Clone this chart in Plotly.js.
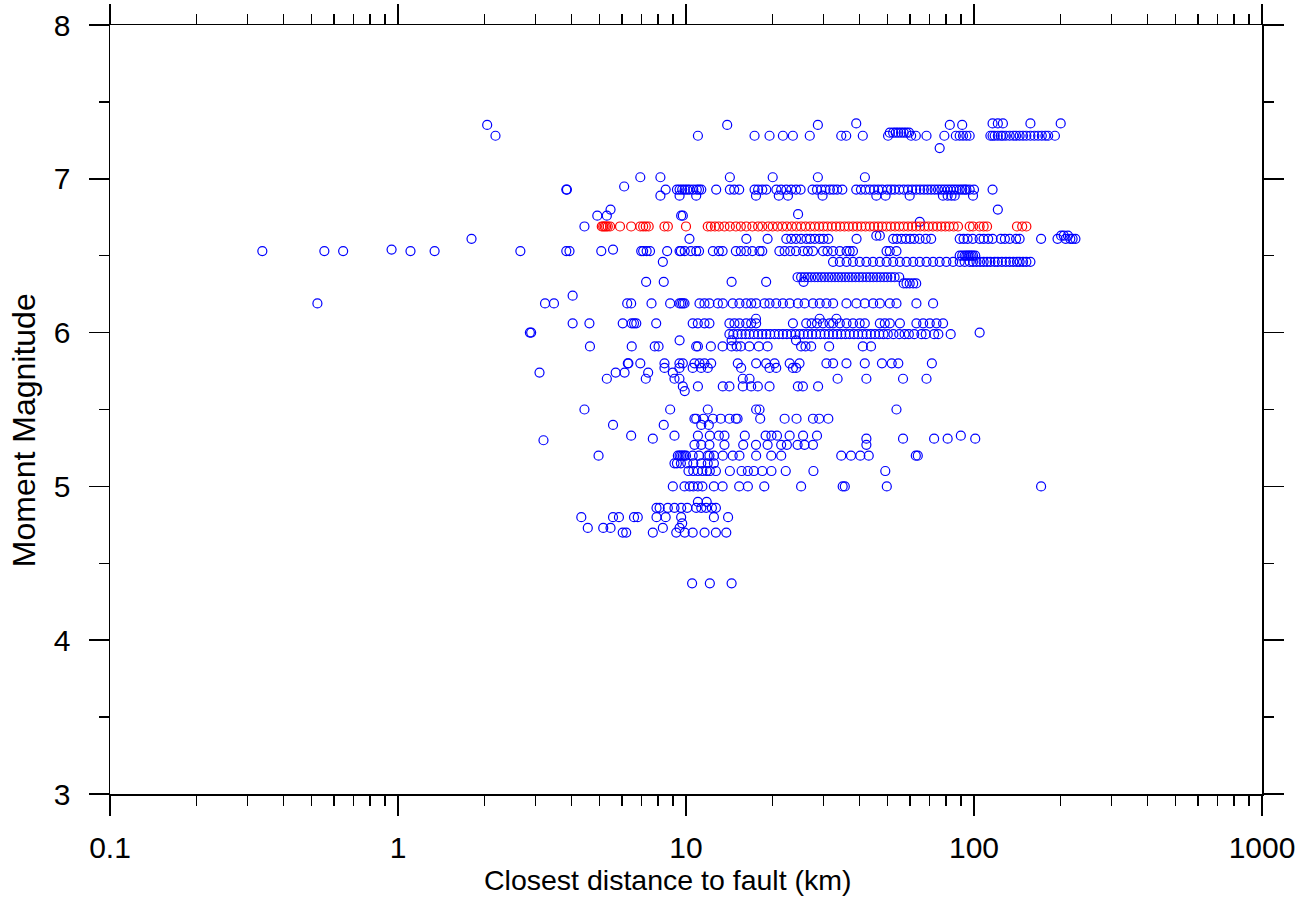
<!DOCTYPE html>
<html>
<head>
<meta charset="utf-8">
<script src="https://cdn.plot.ly/plotly-3.0.1.min.js"></script>
<style>
html,body{margin:0;padding:0;background:#fff;}
#chart{width:1314px;height:903px;}
</style>
</head>
<body>
<div id="chart"></div>
<script>
// Magnitude rows (blue = all records, red = highlighted event)
const blueMag = [7.36, 7.35, 7.30, 7.28, 7.20, 7.01, 6.95, 6.93, 6.89, 6.80, 6.77, 6.76, 6.72, 6.69, 6.63, 6.61, 6.54, 6.53, 6.50, 6.46, 6.36, 6.33, 6.32, 6.24, 6.19, 6.09, 6.06, 6.00, 5.99, 5.95, 5.91, 5.80, 5.77, 5.74, 5.70, 5.65, 5.62, 5.50, 5.44, 5.40, 5.33, 5.31, 5.30, 5.27, 5.20, 5.15, 5.10, 5.00, 4.90, 4.86, 4.80, 4.76, 4.73, 4.70, 4.37];
const blueDist = [
  [39.0, 116, 121, 126, 157, 200],
  [2.04, 13.9, 28.7, 82.4, 91.0],
  [51, 52.4, 53.5, 54.6, 55.8, 57.0, 58.2, 59.5],
  [2.18, 11.0, 17.3, 19.5, 21.7, 23.5, 26.9, 34.6, 36.0, 41.1, 50.3, 60.5, 62.8, 68.4, 78.9, 86.5, 89.2, 91.6, 94.1, 96.6, 114, 116, 118, 121, 124, 126, 129, 133, 137, 140, 144, 148, 152, 157, 162, 167, 172, 177, 181, 191],
  [76.0],
  [6.94, 8.15, 14.2, 20.0, 28.7, 41.8],
  [6.1],
  [3.84, 3.86, 8.5, 9.3, 9.5, 9.7, 9.9, 10.1, 10.3, 10.6, 10.9, 11.1, 11.3, 12.73, 14.2, 14.7, 15.3, 17.3, 17.8, 18.4, 19.0, 20.6, 21.4, 22.3, 23.2, 24.1, 25.0, 27.5, 28.5, 29.5, 30.5, 31.6, 32.5, 33.5, 34.9, 39.0, 40.5, 42.0, 43.5, 45.0, 46.5, 48.0, 50.0, 51.5, 53.0, 55.0, 57.0, 59.0, 61.0, 63.0, 65.0, 67.0, 69.0, 71.0, 73.0, 75.0, 77.0, 79.0, 81.0, 83.0, 85.0, 87.0, 89.2, 91.0, 92.8, 94.1, 96.6, 100, 116],
  [8.15, 9.5, 10.85, 17.5, 21.0, 22.6, 29.8, 45.8, 49.3, 59.8, 78.0, 81.0, 83.5, 85.7, 99.2],
  [5.47, 121],
  [24.5],
  [4.92, 5.31, 9.62, 9.75],
  [64.8],
  [4.44],
  [45.8, 47.1, 200.7, 205, 212],
  [1.80, 10.28, 16.2, 19.2, 22.3, 23.2, 24.1, 25.1, 26.2, 27.0, 28.0, 29.1, 30.0, 31.2, 39.1, 52.4, 54.0, 56.0, 58.0, 60.0, 62.0, 64.7, 68.0, 71.0, 89.2, 92.0, 95.0, 99.0, 104.6, 108, 112, 116, 124, 128, 133, 140, 144, 171, 195, 208, 216, 220, 225],
  [0.95, 5.58],
  [0.338, 0.555, 0.645, 1.105, 1.34, 2.66, 3.84, 3.94, 5.08, 6.99, 7.1, 7.3, 7.5, 8.6, 9.5, 9.6, 9.9, 10.4, 10.85, 11.1, 12.4, 13.0, 13.4, 14.9, 15.5, 16.2, 17.0, 18.0, 18.4, 21.1, 22.0, 23.0, 24.1, 25.5, 26.5, 27.6, 29.9, 31.0, 32.4, 34.2, 36.1, 37.0, 38.0, 49.7, 51.0, 53.8],
  [89.2, 91.0, 92.8, 94.1, 95.5, 96.6, 98.0, 99.2, 101],
  [8.31, 32.4, 34.2, 36.1, 38.0, 40.1, 42.3, 44.6, 47.1, 49.7, 52.4, 55.3, 58.3, 61.5, 64.8, 68.4, 72.1, 76.0, 80.2, 84.6, 89.2, 92.8, 96.6, 99.2, 102, 105, 108, 111, 114, 118, 121, 125, 129, 133, 137, 141, 144, 148, 152, 157],
  [24.4, 25.1, 25.8, 26.5, 27.2, 28.0, 28.7, 29.5, 30.3, 31.2, 32.0, 32.9, 33.8, 34.7, 35.7, 36.7, 37.7, 38.8, 39.9, 41.0, 42.3, 43.5, 44.7, 46.0, 47.3, 48.7, 50.0, 51.5, 53.0, 55.0],
  [7.27, 8.37, 14.4, 18.98, 25.6],
  [57.0, 58.3, 59.8, 61.5, 63.0],
  [4.04],
  [0.525, 3.24, 3.48, 6.25, 6.45, 7.59, 8.81, 9.49, 9.62, 9.75, 9.88, 11.14, 11.59, 12.06, 12.9, 13.42, 14.53, 15.33, 16.18, 16.84, 17.52, 18.73, 19.5, 20.57, 21.7, 22.91, 24.46, 25.81, 27.6, 29.13, 30.73, 32.42, 36.07, 39.06, 41.76, 44.65, 47.1, 51.0, 53.8, 63.1, 72.1],
  [17.5, 29.1, 33.3],
  [4.04, 4.62, 6.03, 6.48, 6.6, 6.72, 7.88, 10.55, 10.99, 11.59, 12.06, 14.15, 14.73, 15.33, 16.18, 16.84, 17.52, 23.51, 26.15, 27.3, 28.5, 29.9, 31.5, 32.42, 34.2, 36.1, 38.0, 40.1, 41.76, 47.1, 49.0, 51.0, 55.3, 63.1, 66.6, 70.2, 74.1, 78.1],
  [2.87, 2.90, 104.6],
  [14.15, 14.6, 15.1, 15.6, 16.1, 16.6, 17.2, 17.8, 18.4, 19.0, 19.6, 20.3, 21.0, 21.7, 22.4, 23.2, 24.0, 24.8, 25.6, 26.5, 27.4, 28.3, 29.3, 30.3, 31.3, 32.4, 33.5, 34.6, 35.8, 37.0, 38.3, 39.6, 41.0, 42.4, 43.8, 45.3, 46.9, 48.5, 50.2, 52.5, 55.0, 57.4, 59.4, 62.0, 65.7, 68.0, 72.7, 75.2, 83.0],
  [9.5, 14.4, 24.1],
  [4.64, 6.48, 7.79, 8.03, 10.85, 11.0, 12.2, 13.4, 14.4, 15.0, 15.5, 16.6, 17.9, 19.2, 25.1, 26.0, 27.2, 31.4, 41.1, 43.9],
  [6.28, 6.31, 6.94, 8.42, 9.49, 9.75, 10.7, 11.14, 11.59, 12.23, 15.13, 17.52, 18.98, 20.3, 22.91, 24.78, 30.73, 32.42, 36.07, 41.76, 47.9, 51.8, 54.6, 71.4],
  [8.42, 9.49, 10.55, 11.29, 11.9, 15.54, 19.5, 20.57, 23.51, 24.12],
  [3.10, 5.70, 6.12, 7.39, 9.0],
  [5.31, 7.25, 9.12, 9.49, 15.75, 16.62, 33.6, 42.3, 56.7, 68.4],
  [9.75, 11.0, 13.42, 14.15, 15.75, 16.84, 17.76, 19.5, 24.46, 25.46, 28.75],
  [9.9],
  [4.44, 8.81, 11.9, 17.52, 18.0, 53.8],
  [10.7, 10.85, 11.5, 12.4, 13.2, 14.15, 14.9, 15.1, 18.1, 22.0, 24.2, 27.6, 29.0, 31.2],
  [5.58, 8.37, 11.3, 12.0],
  [6.45, 9.12, 11.0, 12.1, 13.0, 13.6, 16.0, 18.9, 19.8, 20.7, 22.9, 25.5, 28.5, 90.0],
  [7.67, 42.3, 56.7, 72.7, 81.0, 101],
  [3.20],
  [10.7, 11.3, 12.06, 13.6, 15.8, 17.5, 19.2, 21.4, 22.4, 24.4, 25.8, 27.6, 42.3],
  [4.97, 9.37, 9.5, 9.62, 9.75, 9.88, 10.0, 10.55, 11.1, 11.9, 12.06, 12.5, 13.42, 14.53, 15.33, 17.52, 19.77, 21.41, 34.6, 37.4, 40.3, 43.1, 62.8, 63.8],
  [9.12, 9.3, 9.6, 10.1, 10.6, 11.3, 11.9, 12.5],
  [10.2, 10.6, 11.0, 11.4, 11.8, 12.1, 12.7, 14.2, 15.6, 16.4, 17.2, 18.4, 19.8, 22.2, 27.7, 49.2],
  [9.0, 9.88, 10.3, 10.6, 11.0, 11.4, 12.5, 13.4, 15.3, 16.4, 18.7, 25.1, 35.0, 35.6, 49.8, 171],
  [11.0, 11.8],
  [7.9, 8.1, 8.65, 9.12, 9.62, 10.1, 10.85, 11.3, 11.75, 12.3, 12.7],
  [4.33, 5.58, 5.85, 6.6, 6.8, 7.9, 8.5, 9.62, 12.5, 14.0],
  [9.7],
  [4.56, 5.16, 5.47, 8.31, 9.5],
  [6.03, 6.2, 7.67, 9.25, 9.9, 10.55, 11.6, 12.7, 13.8],
  [10.5, 12.1, 14.4]
];
const redMag = [6.69];
const redDist = [
  [5.1, 5.16, 5.22, 5.28, 5.35, 5.45, 5.9, 6.45, 6.94, 7.1, 7.25, 7.42, 8.42, 8.65, 10.0, 11.9, 12.2, 12.6, 13.0, 13.6, 14.2, 14.9, 15.5, 16.2, 17.0, 17.8, 18.4, 19.3, 20.0, 20.8, 21.6, 22.4, 23.3, 24.2, 25.1, 26.0, 27.0, 28.0, 29.0, 30.0, 31.0, 32.1, 33.2, 34.3, 35.5, 36.7, 38.0, 39.3, 40.6, 42.0, 43.5, 45.0, 46.5, 48.0, 49.7, 51.4, 53.2, 55.0, 57.0, 59.0, 61.0, 63.0, 65.0, 67.3, 69.5, 72.0, 74.5, 77.0, 79.5, 82.0, 85.0, 88.0, 96.6, 99.2, 104.6, 108, 111, 141, 147, 152]
];
const xTickVals = [0.1, 1, 10, 100, 1000];
const xTickText = ['0.1', '1', '10', '100', '1000'];
const yTickVals = [3, 4, 5, 6, 7, 8];
const xTitle = 'Closest distance to fault (km)';
const yTitle = 'Moment Magnitude';

function flatten(mags, dists) {
  const xs = [], ys = [];
  mags.forEach((m, i) => dists[i].forEach(d => { xs.push(d); ys.push(m); }));
  return {xs, ys};
}
const blue = flatten(blueMag, blueDist);
const red = flatten(redMag, redDist);

const FONT = 'Arial, "Liberation Sans", Helvetica, sans-serif';
const traces = [
  {x: blue.xs, y: blue.ys, type: 'scatter', mode: 'markers', name: 'All',
   marker: {symbol: 'circle-open', size: 9, color: '#0000ff', line: {width: 1.2, color: '#0000ff'}}},
  {x: red.xs, y: red.ys, type: 'scatter', mode: 'markers', name: 'Event',
   marker: {symbol: 'circle-open', size: 9, color: '#ff0000', line: {width: 1.2, color: '#ff0000'}}}
];
const axisCommon = {
  showline: true, linecolor: '#000', linewidth: 1.5, mirror: 'ticks',
  ticks: 'outside', ticklen: 20, tickwidth: 1.5, tickcolor: '#000',
  showgrid: false, zeroline: false,
  tickfont: {family: FONT, size: 30, color: '#000'}
};
const layout = {
  width: 1314, height: 903,
  margin: {l: 110, r: 52, t: 25, b: 109},
  paper_bgcolor: '#fff', plot_bgcolor: '#fff',
  showlegend: false,
  font: {family: FONT, color: '#000'},
  xaxis: Object.assign({}, axisCommon, {
    type: 'log', range: [-1, 3], tickmode: 'array', tickvals: xTickVals, ticktext: xTickText,
    ticklabelstandoff: 6,
    minor: {dtick: 'D1', ticks: 'outside', ticklen: 10, tickwidth: 1.5, tickcolor: '#000', showgrid: false}
  }),
  yaxis: Object.assign({}, axisCommon, {
    range: [3, 8], tickmode: 'array', tickvals: yTickVals,
    ticklabelstandoff: 12,
    minor: {dtick: 0.5, ticks: 'outside', ticklen: 10, tickwidth: 1.5, tickcolor: '#000', showgrid: false}
  }),
  annotations: [
    {text: xTitle, xref: 'paper', yref: 'paper', x: 0.484, y: -0.112,
     xanchor: 'center', yanchor: 'middle', showarrow: false,
     font: {family: FONT, size: 28.5, color: '#000'}},
    {text: yTitle, xref: 'paper', yref: 'paper', x: -0.0747, y: 0.473,
     xanchor: 'center', yanchor: 'middle', showarrow: false, textangle: -90,
     font: {family: FONT, size: 32, color: '#000'}}
  ]
};
Plotly.newPlot('chart', traces, layout, {staticPlot: true, displayModeBar: false});
</script>
</body>
</html>
